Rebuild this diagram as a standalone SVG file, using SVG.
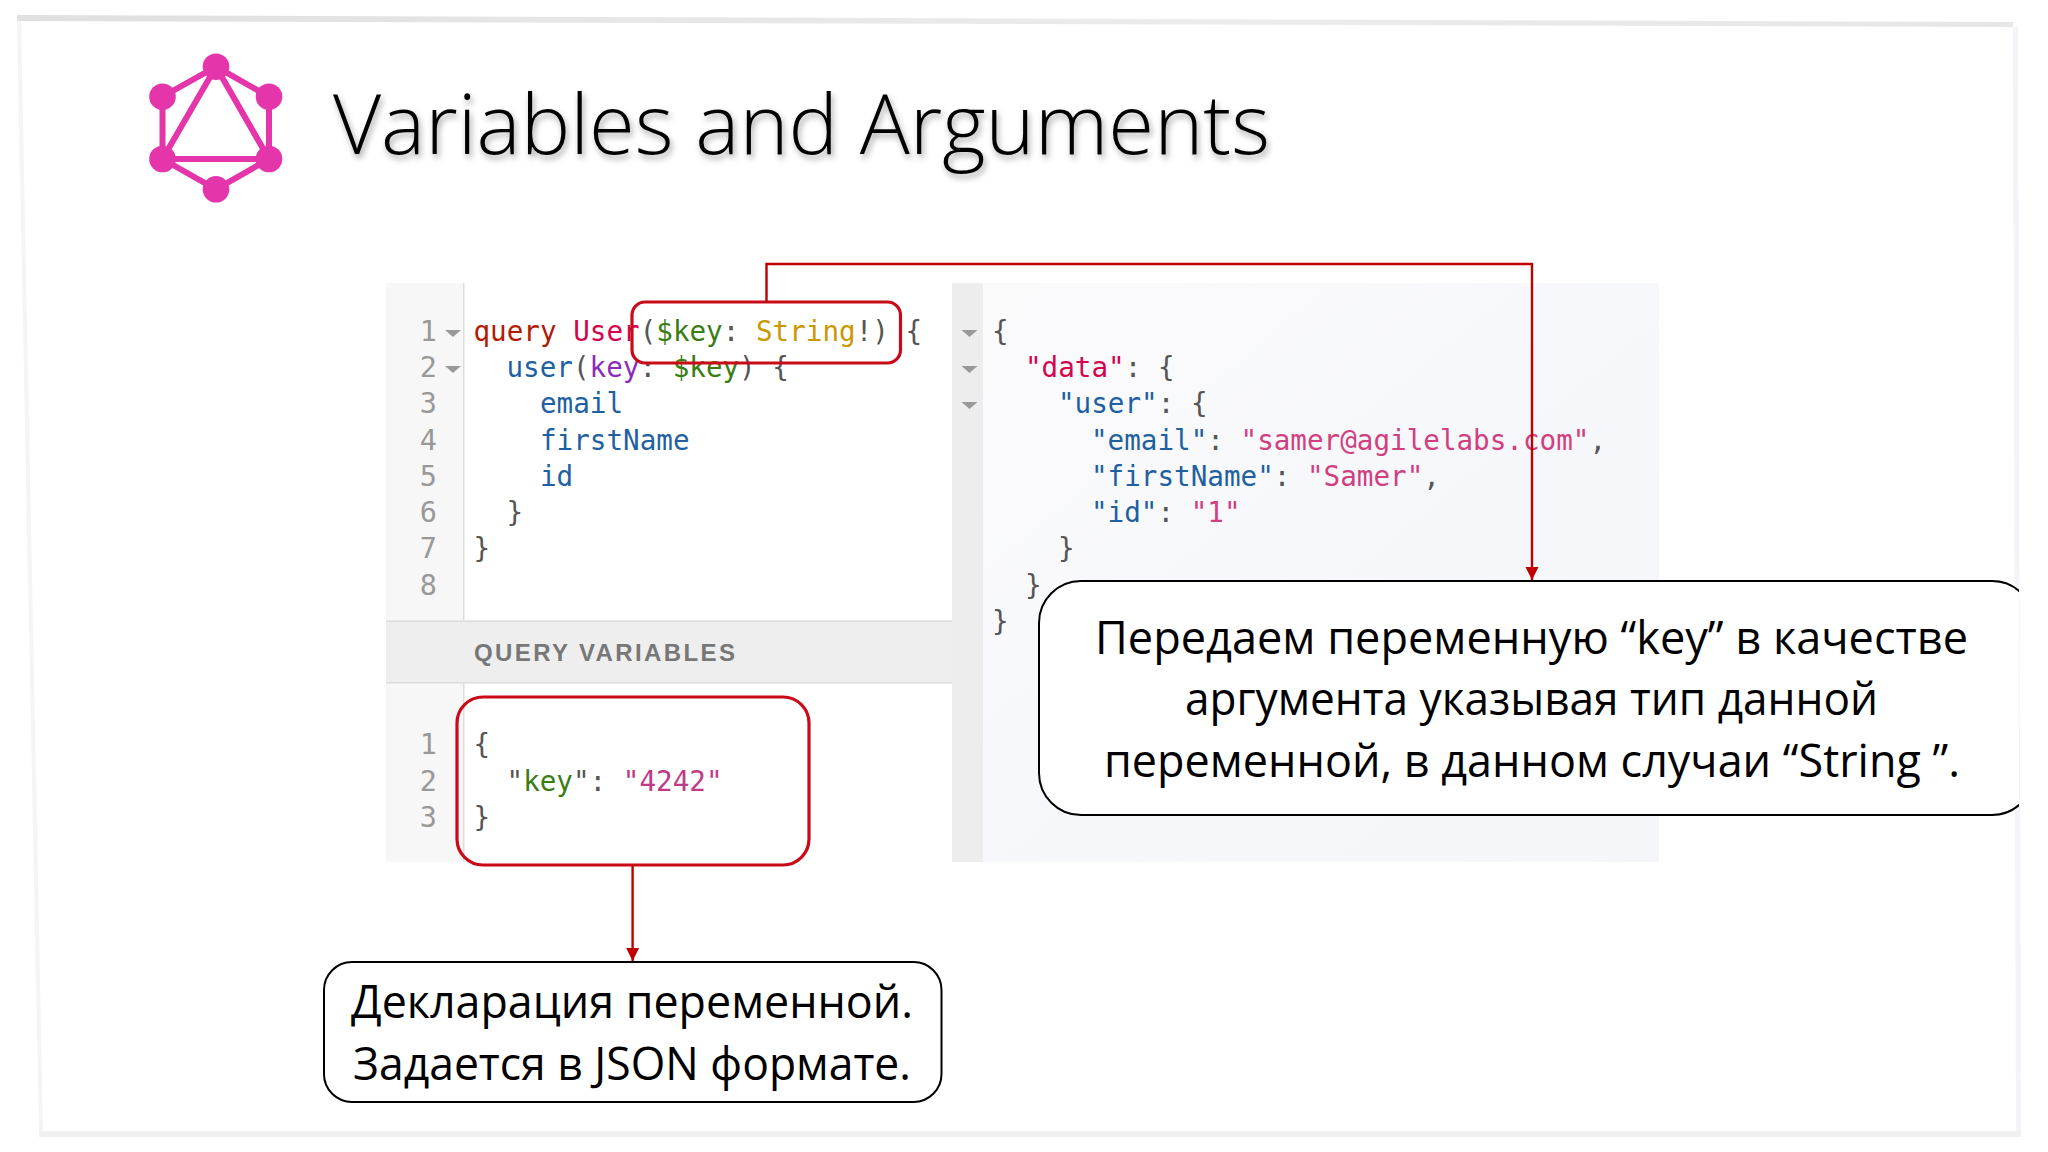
<svg xmlns="http://www.w3.org/2000/svg" width="2048" height="1152" viewBox="0 0 2048 1152">
<style>
text{white-space:pre}
.code{font-family:"DejaVu Sans Mono","Liberation Mono",monospace;font-size:27.6px;fill:#555}
.ln{font-family:"DejaVu Sans Mono","Liberation Mono",monospace;font-size:28.5px;fill:#999;text-anchor:end}
.kw{fill:#b11a04}.def{fill:#d2054e}.prop{fill:#1f61a0}.attr{fill:#8b2bb9}.var{fill:#397d13}.bi{fill:#ca9800}.str{fill:#d0407f}
.call{font-family:"Open Sans","Noto Sans","Liberation Sans",sans-serif;font-size:46px;fill:#000}
.hl{fill:none;stroke:#c90a18;stroke-width:3.2}
.wire{fill:none;stroke:#c00000;stroke-width:2.4}
.box{fill:#fff;stroke:#000;stroke-width:2}
.tri{fill:#999}
.logo circle{fill:#e535ab}
.logo path{fill:none;stroke:#e535ab;stroke-width:6}
</style>
<defs>
<marker id="arr" markerUnits="userSpaceOnUse" markerWidth="14" markerHeight="14" refX="13" refY="7" orient="auto"><path d="M0,0.5 L13,7 L0,13.5 z" fill="#c00000"/></marker>
<filter id="sh" x="-5%" y="-20%" width="110%" height="150%"><feDropShadow dx="2" dy="4" stdDeviation="3" flood-color="#000" flood-opacity="0.35"/></filter>
<linearGradient id="top" x1="0" x2="1" y1="0" y2="0"><stop offset="0" stop-color="#e0e0e0"/><stop offset="0.6" stop-color="#ececec"/><stop offset="1" stop-color="#e6e6e6"/></linearGradient>
<linearGradient id="pane" x1="0" x2="1" y1="0" y2="1"><stop offset="0" stop-color="#fbfbfc"/><stop offset="0.6" stop-color="#f6f7fb"/><stop offset="1" stop-color="#f5f6fa"/></linearGradient>
<clipPath id="cut"><rect x="1000" y="560" width="1019" height="280"/></clipPath>
<path id="t" d="M0,0 h16 l-8,7 z"/>
</defs>
<rect width="2048" height="1152" fill="#fff"/>
<g id="frame">
<polygon points="17,15 2013,22 2013,27 17,21" fill="url(#top)"/>
<polygon points="17,21 21,21 43,1131 39,1131" fill="#f5f5f5"/>
<polygon points="2013,27 2018,27 2021,1137 2016,1137" fill="#f4f4f8"/>
<polygon points="39,1131 2021,1131 2021,1137 39,1137" fill="#f0f0f1"/>
</g>
<g id="logo" class="logo">
<path d="M216,66.7 L269,96.7 L269,159 L216,189.3 L162.5,159 L162.5,96.7 Z M216,66.7 L269,159 L162.5,159 Z"/>
<circle cx="216" cy="66.7" r="13.3"/><circle cx="162.5" cy="96.7" r="13.3"/><circle cx="269" cy="96.7" r="13.3"/><circle cx="162.5" cy="159" r="13.3"/><circle cx="269" cy="159" r="13.3"/><circle cx="216" cy="189.3" r="13.3"/>
</g>
<text id="title" x="333" y="154" font-family="'Open Sans','Noto Sans',sans-serif" font-weight="300" font-size="83" fill="#000" textLength="937" lengthAdjust="spacingAndGlyphs" filter="url(#sh)">Variables and Arguments</text>
<g id="left-pane">
<rect x="386" y="283" width="566" height="579" fill="#fff"/>
<rect x="386" y="283" width="78" height="338" fill="#f7f7f7"/>
<rect x="463" y="283" width="1.5" height="338" fill="#ddd"/>
<rect x="386" y="683" width="78" height="179" fill="#f7f7f7"/>
<rect x="463" y="683" width="1.5" height="179" fill="#ddd"/>
<rect x="386" y="620.5" width="566" height="62.5" fill="#eeeeee"/>
<rect x="386" y="620.5" width="566" height="1.5" fill="#dcdcdc"/>
<rect x="386" y="682" width="566" height="1.5" fill="#dcdcdc"/>
<use href="#t" x="445" y="330" class="tri"/><use href="#t" x="445" y="366" class="tri"/>
<text class="ln" x="437" y="341">1</text><text class="ln" x="437" y="377">2</text><text class="ln" x="437" y="413.3">3</text><text class="ln" x="437" y="449.5">4</text><text class="ln" x="437" y="485.7">5</text><text class="ln" x="437" y="522">6</text><text class="ln" x="437" y="558">7</text><text class="ln" x="437" y="594.5">8</text>
<text class="code" x="473.5" y="341"><tspan class="kw">query</tspan> <tspan class="def">User</tspan>(<tspan class="var">$key</tspan>: <tspan class="bi">String</tspan>!) {</text>
<text class="code" x="506.5" y="377"><tspan class="prop">user</tspan>(<tspan class="attr">key</tspan>: <tspan class="var">$key</tspan>) {</text>
<text class="code prop" x="540" y="413.3">email</text>
<text class="code prop" x="540" y="449.5">firstName</text>
<text class="code prop" x="540" y="485.7">id</text>
<text class="code" x="506.5" y="522">}</text>
<text class="code" x="473.5" y="558">}</text>
<text x="474" y="660.5" font-family="'Liberation Sans',Arial,sans-serif" font-weight="700" font-size="24" fill="#777" textLength="261" lengthAdjust="spacing">QUERY VARIABLES</text>
<text class="ln" x="437" y="754">1</text><text class="ln" x="437" y="790.5">2</text><text class="ln" x="437" y="827">3</text>
<text class="code" x="473.5" y="754">{</text>
<text class="code" x="506.5" y="790.5">"<tspan class="var">key</tspan>": <tspan fill="#c03a85">"4242"</tspan></text>
<text class="code" x="473.5" y="827">}</text>
</g>
<g id="right-pane">
<rect x="952" y="283" width="707" height="579" fill="url(#pane)"/>
<rect x="952" y="283" width="31" height="579" fill="#ededed"/>
<use href="#t" x="961.5" y="330" class="tri"/><use href="#t" x="961.5" y="366" class="tri"/><use href="#t" x="961.5" y="402" class="tri"/>
<text class="code" x="992" y="341">{</text>
<text class="code" x="1025" y="377"><tspan class="def">"data"</tspan>: {</text>
<text class="code" x="1058" y="413.3"><tspan class="prop">"user"</tspan>: {</text>
<text class="code" x="1091" y="449.5"><tspan class="prop">"email"</tspan>: <tspan class="str">"samer@agilelabs.com"</tspan>,</text>
<text class="code" x="1091" y="485.7"><tspan class="prop">"firstName"</tspan>: <tspan class="str">"Samer"</tspan>,</text>
<text class="code" x="1091" y="522"><tspan class="prop">"id"</tspan>: <tspan class="str">"1"</tspan></text>
<text class="code" x="1058" y="558">}</text>
<text class="code" x="1025" y="594.5">}</text>
<text class="code" x="992" y="630.5">}</text>
</g>
<g id="highlight-args"><rect class="hl" x="632" y="302" width="268.5" height="61" rx="13"/></g>
<g id="highlight-vars"><rect class="hl" x="457" y="697" width="352" height="168" rx="26"/></g>
<g id="connectors">
<path class="wire" d="M766.5,302 V264 H1532 V580" marker-end="url(#arr)"/>
<path class="wire" d="M632.6,865 V961" marker-end="url(#arr)"/>
</g>
<g id="callout-args" clip-path="url(#cut)">
<rect class="box" x="1039" y="581" width="995" height="234" rx="42"/>
<text class="call" x="1095" y="654" textLength="873" lengthAdjust="spacingAndGlyphs">Передаем переменную “key” в качестве</text>
<text class="call" x="1185" y="715" textLength="693" lengthAdjust="spacingAndGlyphs">аргумента указывая тип данной</text>
<text class="call" x="1104" y="776.5" textLength="856" lengthAdjust="spacingAndGlyphs">переменной, в данном случаи “String ”.</text>
</g>
<g id="callout-vars">
<rect class="box" x="324" y="962" width="617.5" height="140" rx="28"/>
<text class="call" x="351" y="1018" textLength="562" lengthAdjust="spacingAndGlyphs">Декларация переменной.</text>
<text class="call" x="353" y="1079.5" textLength="558" lengthAdjust="spacingAndGlyphs">Задается в JSON формате.</text>
</g>
</svg>
